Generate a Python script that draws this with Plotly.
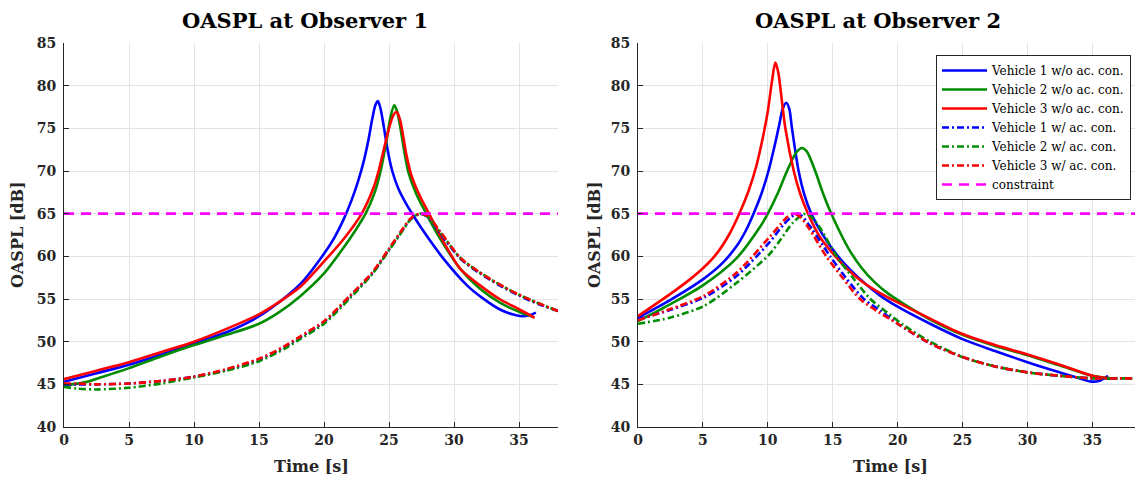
import plotly.graph_objects as go

# ---------------- Observer 1 data ----------------
t1_v1 = [0, 2.5, 5, 7.5, 10, 12.5, 14.6, 16, 18.15, 20, 20.8, 21.5, 22.1, 22.6, 23.0, 23.4, 23.7, 23.95, 24.15, 24.35, 24.6, 24.9, 25.25, 25.7, 26.3, 26.9, 27.9, 29.2, 31.0, 32.2, 33.5, 34.5, 35.1, 35.8, 36.3]
o1_v1 = [45.3, 46.3, 47.3, 48.5, 49.8, 51.1, 52.6, 54.0, 56.7, 60.3, 62.2, 64.3, 66.5, 68.7, 70.8, 73.5, 76.0, 77.7, 78.2, 77.3, 75.2, 72.4, 70.0, 68.0, 66.2, 64.7, 62.4, 59.7, 56.6, 55.1, 53.8, 53.2, 53.0, 53.1, 53.4]

t1_v2 = [0, 1.5, 3, 5, 7.5, 10, 12.5, 15, 16.5, 18.15, 20, 21.5, 22.4, 23.2, 23.9, 24.4, 24.8, 25.1, 25.4, 25.6, 25.85, 26.15, 26.5, 27.1, 27.9, 29.0, 30.5, 32.0, 33.5, 35.0, 36.1]
o1_v2 = [44.9, 45.2, 45.9, 46.9, 48.3, 49.6, 50.8, 52.1, 53.4, 55.3, 58.0, 61.0, 63.0, 65.0, 67.5, 70.3, 73.5, 76.2, 77.7, 77.1, 75.3, 72.5, 69.8, 67.3, 64.9, 61.9, 58.5, 56.2, 54.6, 53.5, 52.9]

t1_v3 = [0, 2.5, 5, 7.5, 10, 12.5, 15, 16.5, 18.15, 20, 21.5, 22.9, 23.8, 24.2, 24.6, 25.0, 25.35, 25.6, 25.85, 26.1, 26.35, 26.7, 27.3, 28.15, 29.2, 30.5, 32.0, 33.5, 35.0, 36.2]
o1_v3 = [45.6, 46.6, 47.6, 48.8, 50.0, 51.5, 53.2, 54.6, 56.4, 59.4, 62.0, 65.0, 68.0, 70.0, 72.5, 75.0, 76.6, 76.9, 76.0, 74.0, 71.8, 69.6, 67.3, 64.8, 61.7, 58.5, 56.6, 55.0, 53.8, 52.8]

t1_ac = [0, 1, 2.5, 5, 7.5, 10, 12.5, 15, 17, 18.15, 20, 22, 23.7, 25, 26, 26.7, 27.4, 28.0, 28.9, 30.5, 32, 33.5, 35, 36.5, 38]
o1_v1_ac = [45.0, 45.0, 45.0, 45.1, 45.4, 45.9, 46.7, 47.9, 49.4, 50.5, 52.3, 55.3, 58.0, 60.8, 63.0, 64.4, 65.0, 64.6, 62.8, 59.7, 58.0, 56.6, 55.4, 54.4, 53.6]
o1_v2_ac = [44.7, 44.5, 44.4, 44.6, 45.1, 45.8, 46.6, 47.7, 49.2, 50.3, 52.1, 55.1, 57.9, 60.7, 62.9, 64.4, 65.0, 64.6, 62.9, 59.8, 58.1, 56.7, 55.5, 54.5, 53.6]
o1_v3_ac = [45.1, 45.1, 45.0, 45.1, 45.4, 45.9, 46.8, 48.0, 49.5, 50.6, 52.4, 55.4, 58.1, 60.9, 63.1, 64.5, 65.0, 64.7, 63.0, 59.8, 58.1, 56.7, 55.5, 54.5, 53.6]

# ---------------- Observer 2 data ----------------
t2_v1 = [0, 2.5, 5, 6.5, 7.6, 8.3, 8.9, 9.5, 10.05, 10.5, 10.85, 11.15, 11.42, 11.65, 11.86, 12.37, 12.8, 13.35, 14.2, 15.3, 16.3, 17.5, 18.65, 20, 22.5, 25, 27.5, 30, 32.5, 34.0, 34.8, 35.5, 36.2]
o2_v1 = [52.8, 54.9, 57.3, 59.2, 61.2, 63.0, 65.0, 67.3, 70.0, 72.8, 75.2, 77.3, 78.0, 77.3, 75.0, 70.0, 67.3, 65.0, 62.6, 60.2, 58.5, 56.8, 55.4, 54.1, 52.1, 50.3, 48.9, 47.6, 46.4, 45.7, 45.35, 45.4, 46.0]

t2_v2 = [0, 2.5, 5, 7.6, 9.42, 10.0, 10.8, 11.48, 12.2, 12.63, 13.0, 13.65, 14.2, 14.8, 15.5, 16.3, 17.2, 18.2, 19.3, 20.5, 22.5, 25, 27.5, 30, 32.5, 35, 36.4]
o2_v2 = [52.4, 54.4, 56.6, 59.8, 63.5, 65.0, 67.5, 70.0, 72.2, 72.7, 72.3, 70.0, 67.6, 65.3, 63.0, 60.7, 58.7, 57.0, 55.6, 54.4, 52.6, 50.8, 49.5, 48.4, 47.2, 46.0, 45.7]

t2_v3 = [0, 2.5, 4, 5, 6, 7, 7.8, 8.5, 9.1, 9.6, 10.0, 10.3, 10.58, 10.8, 11.0, 11.35, 12.0, 12.5, 13.1, 14.0, 15.2, 16.2, 17.3, 18.65, 20, 22.5, 25, 27.5, 30, 32.5, 35, 36.4]
o2_v3 = [53.0, 55.6, 57.3, 58.6, 60.2, 62.5, 65.0, 67.6, 70.5, 73.8, 77.0, 80.3, 82.7, 81.6, 79.3, 75.0, 70.0, 67.3, 65.0, 62.3, 60.0, 58.4, 57.0, 55.7, 54.6, 52.7, 50.9, 49.6, 48.5, 47.3, 46.0, 45.7]

t2_v1_ac = [0, 2.45, 5.1, 7.6, 10.1, 11.2, 11.8, 12.25, 12.7, 13.4, 14.8, 16.0, 17.4, 18.7, 20, 22.5, 25, 27.5, 30, 32.5, 35, 37, 38.9]
o2_v1_ac = [52.6, 53.7, 55.2, 57.7, 61.6, 63.7, 64.6, 65.0, 64.6, 63.2, 60.0, 57.5, 55.0, 53.6, 52.1, 49.8, 48.2, 47.1, 46.4, 46.0, 45.7, 45.7, 45.7]

t2_v2_ac = [0, 2.45, 5.1, 7.6, 10.1, 11.0, 11.9, 12.5, 12.9, 13.3, 14.0, 15.3, 16.6, 17.9, 19.2, 20.5, 22.5, 25, 27.5, 30, 32.5, 35, 37, 38.9]
o2_v2_ac = [52.1, 52.8, 54.2, 56.9, 60.2, 62.0, 63.9, 64.7, 65.0, 64.7, 63.4, 60.0, 57.4, 55.0, 53.4, 51.9, 50.0, 48.2, 47.1, 46.4, 46.0, 45.7, 45.7, 45.7]

t2_v3_ac = [0, 2.45, 5.1, 7.6, 10.1, 11.0, 11.5, 12.0, 12.5, 13.2, 14.5, 15.8, 17.1, 18.5, 20, 22.5, 25, 27.5, 30, 32.5, 35, 37, 38.9]
o2_v3_ac = [52.5, 53.8, 55.4, 58.1, 62.2, 63.8, 64.6, 65.0, 64.6, 63.2, 60.0, 57.4, 55.0, 53.5, 52.1, 49.8, 48.2, 47.1, 46.4, 46.0, 45.7, 45.7, 45.7]

t_constraint = [0, 40]
constraint = [65, 65]

names = ["Vehicle 1 w/o ac. con.", "Vehicle 2 w/o ac. con.", "Vehicle 3 w/o ac. con.",
         "Vehicle 1 w/ ac. con.", "Vehicle 2 w/ ac. con.", "Vehicle 3 w/ ac. con.", "constraint"]
x_ticks = [0, 5, 10, 15, 20, 25, 30, 35]
y_ticks = [40, 45, 50, 55, 60, 65, 70, 75, 80, 85]

BLUE = "#0000ff"
GREEN = "#008c00"
RED = "#ff0000"
MAG = "#ff00ff"
DASHDOT = "7px,3px,2px,3px"
DASH = "10px,7px"
LW = 2.6
SERIF = "DejaVu Serif"
INK = "#262626"

fig = go.Figure()

panels = [
    ("x", "y", [(t1_v1, o1_v1), (t1_v2, o1_v2), (t1_v3, o1_v3),
                (t1_ac, o1_v1_ac), (t1_ac, o1_v2_ac), (t1_ac, o1_v3_ac)]),
    ("x2", "y2", [(t2_v1, o2_v1), (t2_v2, o2_v2), (t2_v3, o2_v3),
                  (t2_v1_ac, o2_v1_ac), (t2_v2_ac, o2_v2_ac), (t2_v3_ac, o2_v3_ac)]),
]
colors = [BLUE, GREEN, RED, BLUE, GREEN, RED]
for pi, (xa, ya, series) in enumerate(panels):
    for i, (tx, ty) in enumerate(series):
        fig.add_trace(go.Scatter(
            x=tx, y=ty, xaxis=xa, yaxis=ya, mode="lines",
            line=dict(color=colors[i], width=LW, shape="spline", smoothing=0.8,
                      dash=None if i < 3 else DASHDOT),
            name=names[i], showlegend=(pi == 1), legendrank=i + 1))
    fig.add_trace(go.Scatter(
        x=t_constraint, y=constraint, xaxis=xa, yaxis=ya, mode="lines",
        line=dict(color=MAG, width=LW, dash=DASH),
        name=names[6], showlegend=(pi == 1), legendrank=7))

# page body has an 8px default margin; compensate so the plot areas sit where intended
W, H = 1135, 479
ML, MR, MT, MB = 56, 0, 35, 60
PW = W - ML - MR
PH = H - MT - MB
X0, Y0 = 8 + ML, 8 + MT  # absolute position of plot area origin (top-left)

axis_common = dict(showline=True, linecolor=INK, linewidth=1, mirror=False,
                   showgrid=True, gridcolor="#e3e3e3", gridwidth=1, zeroline=False,
                   ticks="inside", ticklen=5, tickcolor=INK, tickwidth=1,
                   tickfont=dict(family=SERIF, size=14, color=INK, weight="bold"))

def px_to_paper_x(px):
    return (px - X0) / PW

def px_to_paper_y(py):
    return (Y0 + PH - py) / PH

fig.update_layout(
    width=W, height=H, autosize=False,
    margin=dict(l=ML, r=MR, t=MT, b=MB),
    paper_bgcolor="white", plot_bgcolor="white",
    xaxis=dict(domain=[0, px_to_paper_x(558)], range=[0, 38], tickvals=x_ticks, anchor="y", **axis_common),
    yaxis=dict(domain=[0, 1], range=[40, 85], tickvals=y_ticks, anchor="x", ticklabelstandoff=4, **axis_common),
    xaxis2=dict(domain=[px_to_paper_x(638), 1], range=[0, 38.9], tickvals=x_ticks, anchor="y2", **axis_common),
    yaxis2=dict(domain=[0, 1], range=[40, 85], tickvals=y_ticks, anchor="x2", ticklabelstandoff=4, **axis_common),
    legend=dict(x=px_to_paper_x(1131), y=px_to_paper_y(55), xanchor="right", yanchor="top",
                bgcolor="white", bordercolor=INK, borderwidth=1,
                font=dict(family=SERIF, size=12, color="black"),
                tracegroupgap=0, itemwidth=45),
    showlegend=True,
)

ann = []
for cx, txt in [(305, "OASPL at Observer 1"), (878, "OASPL at Observer 2")]:
    ann.append(dict(x=px_to_paper_x(cx), y=px_to_paper_y(21), xref="paper", yref="paper",
                    text=txt, showarrow=False, xanchor="center", yanchor="middle",
                    font=dict(family=SERIF, size=21, color="black", weight="bold")))
for cx in [311, 890]:
    ann.append(dict(x=px_to_paper_x(cx), y=px_to_paper_y(466), xref="paper", yref="paper",
                    text="Time [s]", showarrow=False, xanchor="center", yanchor="middle",
                    font=dict(family=SERIF, size=16, color=INK, weight="bold")))
for cx in [17, 594]:
    ann.append(dict(x=px_to_paper_x(cx), y=px_to_paper_y(235), xref="paper", yref="paper",
                    text="OASPL [dB]", showarrow=False, textangle=-90, xanchor="center", yanchor="middle",
                    font=dict(family=SERIF, size=16, color=INK, weight="bold")))
fig.update_layout(annotations=ann)

fig.write_html("out.html")
